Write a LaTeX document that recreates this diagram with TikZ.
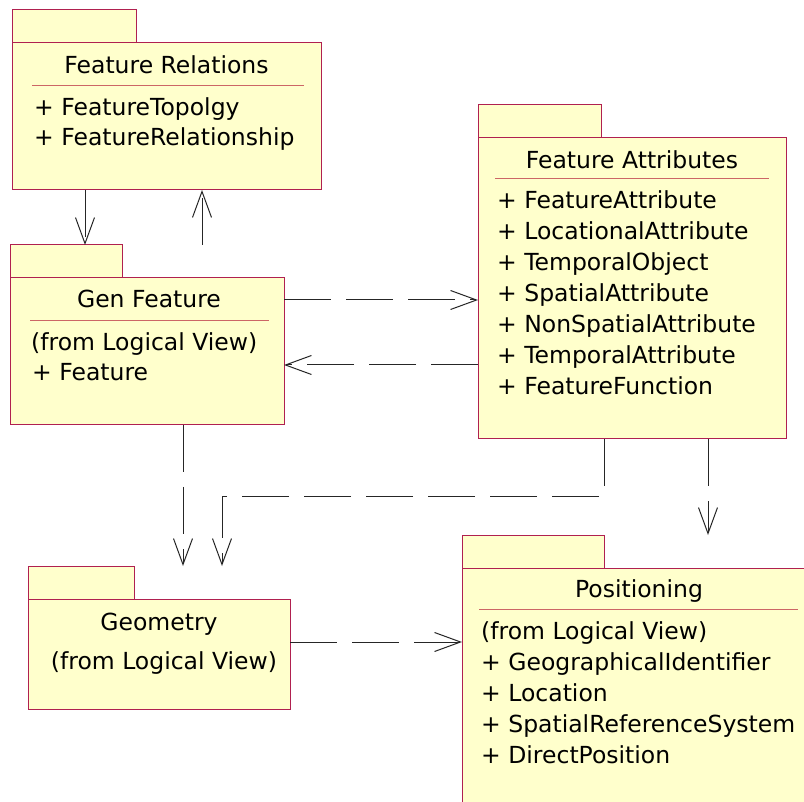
\documentclass[tikz,border=0pt]{standalone}
\usepackage{fontspec}
\setmainfont{DejaVu Sans}
\usetikzlibrary{arrows.meta}
\definecolor{pkgfill}{RGB}{255,255,204}
\definecolor{pkgline}{RGB}{176,32,80}
\definecolor{sepline}{RGB}{204,102,102}
\begin{document}
\begin{tikzpicture}[x=1pt,y=-1pt,
  box/.style={rectangle, draw=pkgline, fill=pkgfill, line width=1pt, inner sep=0pt, outer sep=0pt, anchor=north west},
  sepln/.style={draw=sepline, line width=1pt},
  ttl/.style={anchor=base, inner sep=0pt, font=\fontsize{23.5}{31}\selectfont},
  itm/.style={anchor=base west, inner sep=0pt, font=\fontsize{23.5}{31}\selectfont},
  dep/.style={draw=black!85, line width=1pt, dash pattern=on 47pt off 15pt,
    -{Straight Barb[length=26pt,width=19pt]}}]
\path[use as bounding box, fill=white] (0,0) rectangle (804,802);
\clip (0,0) rectangle (804,802);

% Feature Relations
\node[box, minimum width=124pt, minimum height=33pt] (frtab) at (12,10) {};
\node[box, minimum width=309pt, minimum height=147pt] (frbody) at (12,43) {};
\draw[sepln] (32,86) -- (304,86);
\node[ttl] (frtitle) at (166.5,74) {Feature Relations};
\node[itm] (fr1) at (34,116) {+ FeatureTopolgy};
\node[itm] (fr2) at (34,146) {+ FeatureRelationship};

% Gen Feature
\node[box, minimum width=112pt, minimum height=33pt] (gftab) at (10,245) {};
\node[box, minimum width=274pt, minimum height=147pt] (gfbody) at (10,278) {};
\draw[sepln] (30,321) -- (269,321);
\node[ttl] (gftitle) at (149,308) {Gen Feature};
\node[itm] (gf1) at (31,351) {(from Logical View)};
\node[itm] (gf2) at (32,381) {+ Feature};

% Feature Attributes
\node[box, minimum width=123pt, minimum height=33pt] (fatab) at (478,105) {};
\node[box, minimum width=308pt, minimum height=301pt] (fabody) at (478,138) {};
\draw[sepln] (495,179) -- (769,179);
\node[ttl] (fatitle) at (632,169) {Feature Attributes};
\node[itm] (fa1) at (497,209) {+ FeatureAttribute};
\node[itm] (fa2) at (497,240) {+ LocationalAttribute};
\node[itm] (fa3) at (497,271) {+ TemporalObject};
\node[itm] (fa4) at (497,302) {+ SpatialAttribute};
\node[itm] (fa5) at (497,333) {+ NonSpatialAttribute};
\node[itm] (fa6) at (497,364) {+ TemporalAttribute};
\node[itm] (fa7) at (497,395) {+ FeatureFunction};

% Geometry
\node[box, minimum width=106pt, minimum height=33pt] (geotab) at (28,566) {};
\node[box, minimum width=262pt, minimum height=110pt] (geobody) at (28,599) {};
\node[ttl] (geotitle) at (159,630) {Geometry};
\node[ttl] (geo1) at (164,669) {(from Logical View)};

% Positioning
\node[box, minimum width=142pt, minimum height=33pt] (postab) at (462,535) {};
\node[box, minimum width=354pt, minimum height=262pt] (posbody) at (462,568) {};
\draw[sepln] (479,609) -- (798,609);
\node[ttl] (postitle) at (639,597) {Positioning};
\node[itm] (pos1) at (481,639) {(from Logical View)};
\node[itm] (pos2) at (481,670) {+ GeographicalIdentifier};
\node[itm] (pos3) at (481,701) {+ Location};
\node[itm] (pos4) at (481,732) {+ SpatialReferenceSystem};
\node[itm] (pos5) at (481,763) {+ DirectPosition};

% connectors
\coordinate (a1) at (85,0);
\coordinate (a2) at (202,0);
\coordinate (a3) at (0,300);
\coordinate (a4) at (0,365);
\coordinate (a5) at (183,0);
\coordinate (a6) at (604,496);
\coordinate (a7) at (222,496);
\coordinate (a8) at (708,0);
\coordinate (a9) at (0,642);
\draw[dep] (a1 |- frbody.south) -- (a1 |- gftab.north);
\draw[dep] (a2 |- gftab.north) -- (a2 |- frbody.south);
\draw[dep] (a3 -| gfbody.east) -- (a3 -| fabody.west);
\draw[dep] (a4 -| fabody.west) -- (a4 -| gfbody.east);
\draw[dep] (a5 |- gfbody.south) -- (a5 |- geotab.north);
\draw[dep] (a6 |- fabody.south) -- (a6) -- (a7) -- (a7 |- geotab.north);
\draw[dep] (a8 |- fabody.south) -- (a8 |- postab.north);
\draw[dep] (a9 -| geobody.east) -- (a9 -| posbody.west);
\end{tikzpicture}
\end{document}
